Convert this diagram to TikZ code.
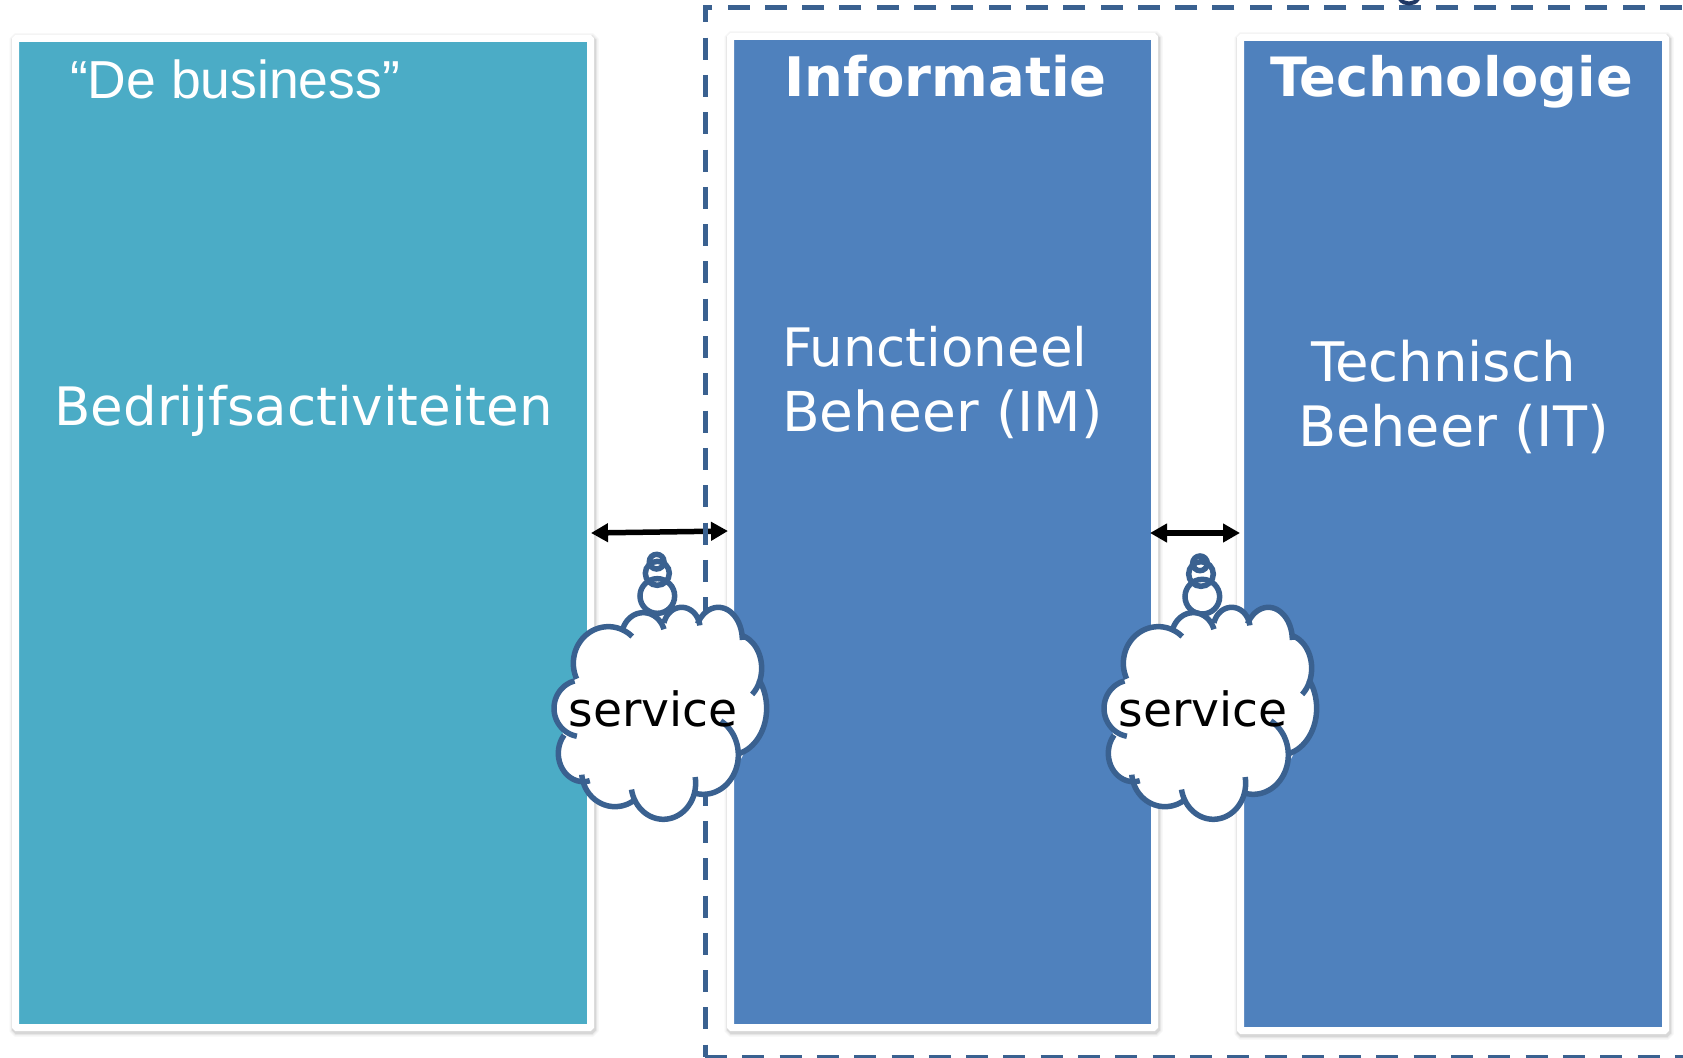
\documentclass[tikz,border=0pt]{standalone}
\usepackage{fontspec}
\setmainfont{DejaVu Sans}
\newfontfamily\arialfont{Liberation Sans}
\usetikzlibrary{arrows.meta}
\definecolor{tealfill}{HTML}{4BACC6}
\definecolor{bluefill}{HTML}{4F81BD}
\definecolor{lineblue}{HTML}{3A6190}
\definecolor{navyglyph}{HTML}{1F3864}
\tikzset{
  panel/.style={rectangle,inner sep=0pt,outer sep=0pt,draw=white,line width=7pt,rounded corners=1pt,
    preaction={draw=black,opacity=.04,line width=14pt,transform canvas={xshift=1pt,yshift=-2pt}},
    preaction={draw=black,opacity=.05,line width=11pt,transform canvas={xshift=1pt,yshift=-2pt}},
    preaction={draw=black,opacity=.07,line width=9pt,transform canvas={xshift=1pt,yshift=-2pt}}},
  label/.style={inner sep=0pt,outer sep=0pt,text=white,anchor=base west},
  big/.style={label,font=\fontsize{53}{64}\selectfont},
  bigwide/.style={label,font=\fontsize{55}{64}\selectfont},
  bigwider/.style={label,font=\fontsize{55.7}{64}\selectfont},
  bigmid/.style={label,font=\fontsize{54.5}{64}\selectfont},
  head/.style={label,font=\fontsize{54.5}{64}\selectfont\bfseries},
  svc/.style={inner sep=0pt,outer sep=0pt,text=black,anchor=base west,font=\fontsize{47.2}{55}\selectfont},
  link/.style={draw=black,line width=5.5pt,{Triangle[length=17pt,width=18pt]}-{Triangle[length=17pt,width=18pt]}},
  frameline/.style={draw=lineblue,line width=5pt,dash pattern=on 22pt off 15.3pt},
  cloudline/.style={draw=lineblue,line width=5.5pt},
}
\newcommand{\lobelist}{205,490,105,110,205,47;310,410,65,72,168,18;425,385,55,63,165,8;535,420,72,98,150,0;585,505,80,102,75,-50;570,625,110,140,38,-75;490,765,105,118,60,-105;370,850,97,108,10,-170;225,815,100,105,-53,-175;130,760,75,85,-75,-220;125,625,83,85,260,105}
\newcommand{\cloudbody}{%
  \fill[white] (100,540)--(268,400)--(372,370)--(475,360)--(605,410)--(650,500)--(665,600)--(640,710)--(590,800)--(462,880)--(275,890)--(125,840)--(70,720)--(60,600)--cycle;
  \foreach \cx/\cy/\rx/\ry/\sa/\ea in {205/490/105/110/205/47,310/410/65/72/168/18,425/385/55/63/165/8,535/420/72/98/150/0,585/505/80/102/75/-50,570/625/110/140/38/-75,490/765/105/118/60/-105,370/850/97/108/10/-170,225/815/100/105/-53/-175,130/760/75/85/-75/-220,125/625/83/85/260/105}
    {\fill[white] plot[domain=\sa:\ea,samples=41,smooth] ({\cx+\rx*cos(\x)},{\cy-\ry*sin(\x)}) -- cycle;}
  \foreach \cx/\cy/\rx/\ry/\sa/\ea in {205/490/105/110/205/47,310/410/65/72/168/18,425/385/55/63/165/8,535/420/72/98/150/0,585/505/80/102/75/-50,570/625/110/140/38/-75,490/765/105/118/60/-105,370/850/97/108/10/-170,225/815/100/105/-53/-175,130/760/75/85/-75/-220,125/625/83/85/260/105}
    {\draw[cloudline] plot[domain=\sa:\ea,samples=41,smooth] ({\cx+\rx*cos(\x)},{\cy-\ry*sin(\x)});}
}
\begin{document}
\begin{tikzpicture}[x=1pt,y=-1pt]
\useasboundingbox (0,0) rectangle (1683,1057);
\clip (0,0) rectangle (1683,1057);
\fill[white] (0,0) rectangle (1683,1057);
% panels
\node[panel,fill=tealfill,minimum width=575pt,minimum height=989pt] (biz) at (303,533) {};
\node[panel,fill=bluefill,minimum width=424pt,minimum height=991pt] (info) at (942.5,532) {};
\node[panel,fill=bluefill,minimum width=425pt,minimum height=993pt] (tech) at (1453,534) {};
% connectors
\coordinate (a1) at (591,533);
\coordinate (a2) at (728,531);
\coordinate (b1) at (1150,533);
\coordinate (b2) at (1240,533);
\draw[link] (a1) -- (a2);
\draw[link] (b1) -- (b2);
% dashed frame, running off the right edge
\draw[frameline] (705,1057) -- (1694.5,1057) -- (1694.5,7.5) -- (705,7.5) -- (705,1057);
\draw[navyglyph,line width=4pt] (1400,-1) .. controls (1404,5) and (1414,5) .. (1418,-1);
% clouds
\begin{scope}[shift={(540,500)},x=0.3333pt,y=-0.3333pt]
  \fill[white] (352,288) circle[radius=52];
  \fill[white] (352,220) circle[radius=36];
  \fill[white] (350,185) circle[radius=22];
  \draw[cloudline] (350,185) circle[radius=22];
  \draw[cloudline] (352,220) circle[radius=36];
  \draw[cloudline] (352,288) circle[radius=52];
  \cloudbody
\end{scope}
\begin{scope}[shift={(1090,500)},x=0.3333pt,y=-0.3333pt]
  \fill[white] (337,290) circle[radius=52];
  \fill[white] (333,222) circle[radius=37];
  \fill[white] (330,190) circle[radius=22];
  \draw[cloudline] (330,190) circle[radius=22];
  \draw[cloudline] (333,222) circle[radius=37];
  \draw[cloudline] (337,290) circle[radius=52];
  \cloudbody
\end{scope}
% texts
\node[svc] (s1) at (568.5,726) {service};
\node[svc] (s2) at (1118.5,726) {service};
\node[label,font=\arialfont\fontsize{53.5}{60}\selectfont] (business) at (70,99) {“De business”};
\node[head] (tinfo) at (784.5,96) {Informatie};
\node[head,font=\fontsize{54.2}{64}\selectfont\bfseries] (ttech) at (1270,96) {Technologie};
\node[big] (bedr) at (54.5,425) {Bedrijfsactiviteiten};
\node[big] (fb1) at (782,366) {Functioneel};
\node[bigwide] (fb2) at (782,431) {Beheer (IM)};
\node[bigmid] (tb1) at (1311,381) {Technisch};
\node[bigwider] (tb2) at (1298,446) {Beheer (IT)};
\end{tikzpicture}
\end{document}
